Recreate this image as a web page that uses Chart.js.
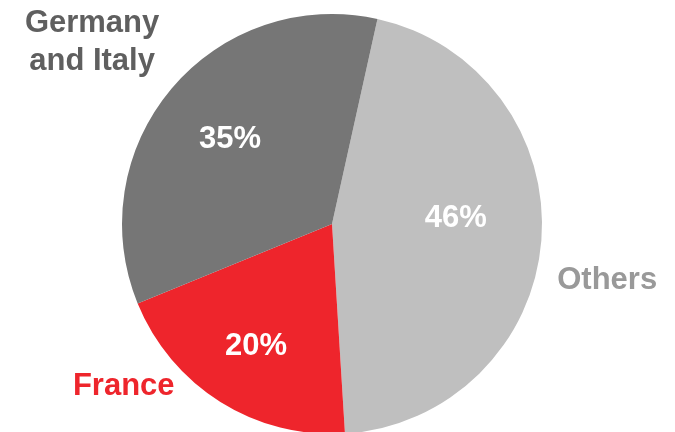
<!DOCTYPE html>
<html>
<head>
<meta charset="utf-8">
<script src="https://cdn.jsdelivr.net/npm/chart.js@4/dist/chart.umd.min.js"></script>
<style>
  html, body { margin: 0; padding: 0; background: #ffffff; overflow: hidden; }
  #wrap { position: relative; width: 675px; height: 448px; }
</style>
</head>
<body>
<div id="wrap"><canvas id="pie"></canvas></div>
<script>
// Market share by region
const categories = ['Others', 'France', 'Germany and Italy'];
const shares = [46, 20, 35];
const shareLabels = ['46%', '20%', '35%'];
const sliceColors = ['#bfbfbf', '#ee252c', '#767676'];
const nameColors = ['#999999', '#ee252c', '#5f5f5f'];

const FONT = 'bold 31px "Liberation Sans", Arial, sans-serif';

// Label placement per slice: value label (angle shift in degrees, radius fraction)
// and category name (angle in degrees clockwise from top, radius fraction).
const valuePlacement = [
  { shift: -7.5, r: 0.59 },
  { shift: 0, r: 0.68 },
  { shift: 0, r: 0.635 }
];
const namePlacement = [
  { angle: 101, r: 1.335, lines: ['Others'] },
  { angle: 232.5, r: 1.25, lines: ['France'] },
  { angle: 307.5, r: 1.44, lines: ['Germany', 'and Italy'] }
];

const sliceLabels = {
  id: 'sliceLabels',
  afterDatasetsDraw(chart) {
    const ctx = chart.ctx;
    const meta = chart.getDatasetMeta(0);
    ctx.save();
    ctx.font = FONT;
    ctx.textAlign = 'center';
    ctx.textBaseline = 'middle';
    meta.data.forEach((arc, i) => {
      const p = arc.getProps(['x', 'y', 'startAngle', 'endAngle', 'outerRadius'], true);
      const mid = (p.startAngle + p.endAngle) / 2 + valuePlacement[i].shift * Math.PI / 180;
      const rv = p.outerRadius * valuePlacement[i].r;
      ctx.fillStyle = '#ffffff';
      ctx.fillText(shareLabels[i], p.x + Math.cos(mid) * rv, p.y + Math.sin(mid) * rv + 1);

      const np = namePlacement[i];
      const a = (np.angle - 90) * Math.PI / 180;
      const rn = p.outerRadius * np.r;
      const cx = p.x + Math.cos(a) * rn;
      const cy = p.y + Math.sin(a) * rn + 3;
      const lh = 38;
      ctx.fillStyle = nameColors[i];
      np.lines.forEach((line, k) => {
        const y = cy + (k - (np.lines.length - 1) / 2) * lh;
        ctx.fillText(line, cx, y);
      });
    });
    ctx.restore();
  }
};

new Chart(document.getElementById('pie'), {
  type: 'pie',
  data: {
    labels: categories,
    datasets: [{
      data: shares,
      backgroundColor: sliceColors,
      borderWidth: 0,
      hoverOffset: 0
    }]
  },
  options: {
    responsive: true,
    maintainAspectRatio: false,
    animation: false,
    rotation: 12.5,
    layout: { padding: { top: 14, bottom: 14, left: 0, right: 11 } },
    plugins: {
      legend: { display: false },
      tooltip: { enabled: false }
    }
  },
  plugins: [sliceLabels]
});
</script>
</body>
</html>
